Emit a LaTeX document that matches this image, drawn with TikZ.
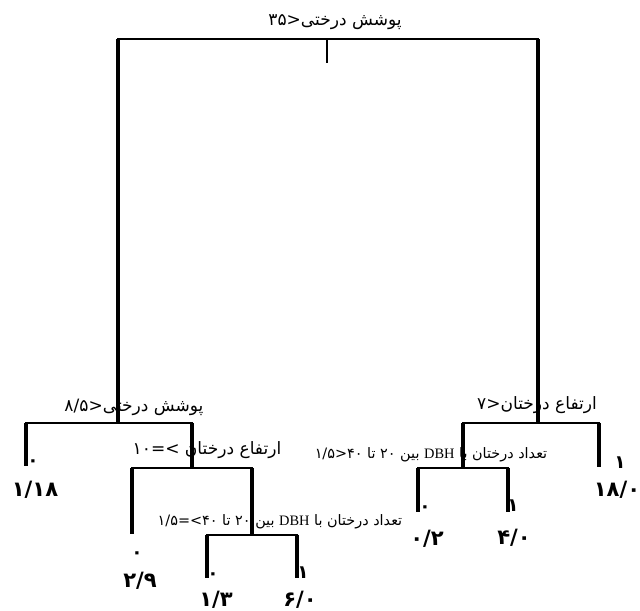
\documentclass[tikz,border=0pt]{standalone}
\usepackage{fontspec}
\usepackage{tikz}
\newfontfamily\arabicfont[Script=Arabic]{DejaVu Sans}
\newfontfamily\digitfont{DejaVu Sans}
\newfontfamily\latinfont{Liberation Serif}
\TeXXeTstate=1
% numbers and signs are set left to right
\newcommand{\nm}[1]{\beginL{\digitfont #1}\endL}
\newcommand{\dbh}{\beginL{\latinfont DBH}\endL}

\begin{document}
\begin{tikzpicture}[
    x=0.02cm, y=-0.02cm,
    branch/.style={line width=2pt},
    bar/.style={line width=1.4pt, line cap=rect},
    cond/.style={font=\arabicfont\fontsize{9.7}{11}\selectfont, inner sep=0pt},
    smallcond/.style={font=\arabicfont\fontsize{8.2}{9}\selectfont, inner sep=0pt},
    classmark/.style={font=\digitfont\bfseries\fontsize{10.5}{11}\selectfont, inner sep=0pt},
    leafvalue/.style={font=\digitfont\bfseries\fontsize{12}{13}\selectfont, inner sep=0pt}
]
\useasboundingbox (0,0) rectangle (640,611);

% root split
\node[cond] (root) at (335,22) {\beginR پوشش درختی\nm{۳۵>}\endR};
\coordinate (rootL) at (118,39);
\coordinate (rootR) at (538,39);
\coordinate (rootM) at (327,39);
\coordinate (rootT) at (327,63);
\draw[bar] (rootL) -- (rootR);
\draw[line width=0.6pt] (rootM) -- (rootT);

% left subtree
\coordinate (leftS) at (118,423);
\draw[branch] (rootL) -- (leftS);
\node[cond] (leftC) at (134,407) {\beginR پوشش درختی\nm{۸/۵>}\endR};
\coordinate (leftA) at (26,423);
\coordinate (leftB) at (192,423);
\draw[bar] (leftA) -- (leftB);
\coordinate (leafA) at (26,466);
\draw[branch] (leftA) -- (leafA);
\node[classmark] (markA) at (33,463) {۰};
\node[leafvalue] (valA) at (35,490) {۱/۱۸};

\coordinate (heightS) at (192,468);
\draw[branch] (leftB) -- (heightS);
\node[cond] (heightC) at (207,450) {\beginR ارتفاع درختان \nm{۱۰=<}\endR};
\coordinate (heightA) at (132,468);
\coordinate (heightB) at (252,468);
\draw[bar] (heightA) -- (heightB);
\coordinate (leafB) at (132,534);
\draw[branch] (heightA) -- (leafB);
\node[classmark] (markB) at (137,555) {۰};
\node[leafvalue] (valB) at (140,581) {۲/۹};

\coordinate (dbhS) at (252,535);
\draw[branch] (heightB) -- (dbhS);
\node[smallcond] (dbhC) at (280,522) {\beginR تعداد درختان با \dbh{} بین \nm{۲۰}{} تا \nm{۱/۵=<۴۰}\endR};
\coordinate (dbhA) at (207,535);
\coordinate (dbhB) at (297,535);
\draw[bar] (dbhA) -- (dbhB);
\coordinate (leafC) at (207,578);
\coordinate (leafD) at (297,578);
\draw[branch] (dbhA) -- (leafC);
\draw[branch] (dbhB) -- (leafD);
\node[classmark] (markC) at (213,576) {۰};
\node[classmark] (markD) at (303,573) {۱};
\node[leafvalue] (valC) at (216,600) {۱/۳};
\node[leafvalue] (valD) at (300,600) {۶/۰};

% right subtree
\coordinate (rightS) at (538,423);
\draw[branch] (rootR) -- (rightS);
\node[cond] (rightC) at (537,405) {\beginR ارتفاع درختان\nm{۷>}\endR};
\coordinate (rightA) at (463,423);
\coordinate (rightB) at (599,423);
\draw[bar] (rightA) -- (rightB);
\coordinate (leafE) at (599,467);
\draw[branch] (rightB) -- (leafE);
\node[classmark] (markE) at (620,463) {۱};
\node[leafvalue] (valE) at (617,490) {۱۸/۰};

\coordinate (countS) at (463,468);
\draw[branch] (rightA) -- (countS);
\node[smallcond] (countC) at (431,455) {\beginR تعداد درختان با \dbh{} بین \nm{۲۰}{} تا \nm{۱/۵>۴۰}\endR};
\coordinate (countA) at (418,468);
\coordinate (countB) at (508,468);
\draw[bar] (countA) -- (countB);
\coordinate (leafF) at (418,512);
\coordinate (leafG) at (508,512);
\draw[branch] (countA) -- (leafF);
\draw[branch] (countB) -- (leafG);
\node[classmark] (markF) at (425,509) {۰};
\node[classmark] (markG) at (513,506) {۱};
\node[leafvalue] (valF) at (427,539) {۰/۲};
\node[leafvalue] (valG) at (514,538) {۴/۰};
\end{tikzpicture}
\end{document}
